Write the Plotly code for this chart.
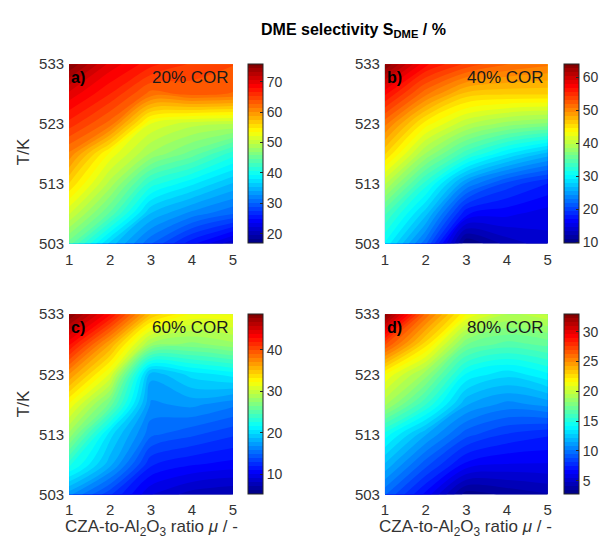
import plotly.graph_objects as go

# ---------------- data ----------------
ratio_mu = [1, 2, 3, 4, 5]                       # CZA-to-Al2O3 ratio
temp_K = [503, 508, 513, 518, 523, 528, 533]     # temperature / K

# DME selectivity / %, rows follow temp_K, columns follow ratio_mu
sel_cor20 = [
    [45.0, 36.0, 30.0, 25.0, 21.0],
    [51.0, 44.0, 35.0, 32.0, 30.0],
    [56.0, 49.0, 41.0, 38.0, 35.0],
    [61.0, 53.0, 48.0, 45.0, 41.0],
    [66.0, 62.0, 52.0, 50.0, 49.5],
    [70.0, 66.5, 62.0, 63.0, 62.5],
    [75.7, 70.0, 67.0, 65.0, 64.0],
]
sel_cor40 = [
    [30.0, 22.0, 9.6, 12.5, 14.0],
    [34.0, 27.0, 17.0, 16.0, 15.0],
    [40.0, 32.0, 24.0, 20.0, 18.0],
    [46.0, 38.5, 33.0, 29.0, 26.0],
    [51.0, 44.0, 40.0, 38.0, 37.0],
    [57.0, 51.0, 46.5, 46.0, 46.0],
    [64.0, 57.0, 54.0, 52.0, 51.0],
]
sel_cor60 = [
    [17.0, 13.0, 9.0, 7.5, 7.0],
    [23.0, 18.0, 12.0, 11.0, 10.5],
    [28.0, 20.0, 15.0, 14.0, 13.0],
    [32.0, 26.0, 16.5, 17.0, 16.0],
    [37.0, 31.0, 18.0, 20.0, 21.0],
    [43.0, 36.0, 28.0, 27.0, 28.0],
    [48.6, 43.0, 35.0, 32.0, 32.0],
]
sel_cor80 = [
    [9.5, 6.5, 3.0, 3.5, 4.0],
    [12.0, 9.0, 6.5, 6.0, 6.0],
    [14.5, 11.5, 9.0, 8.0, 7.5],
    [19.0, 15.5, 11.5, 10.5, 11.0],
    [21.5, 18.5, 14.0, 13.0, 14.0],
    [27.0, 22.5, 17.5, 16.5, 17.0],
    [32.9, 26.0, 21.5, 19.5, 20.0],
]

panel_letters = ["a)", "b)", "c)", "d)"]
panel_titles = ["20% COR", "40% COR", "60% COR", "80% COR"]
cbar_min = [16.8, 9.6, 5.1, 2.7]
cbar_max = [75.7, 64.0, 48.6, 32.9]
cbar_ticks = [[20, 30, 40, 50, 60, 70], [10, 20, 30, 40, 50, 60],
              [10, 20, 30, 40], [5, 10, 15, 20, 25, 30]]
x_ticks = [1, 2, 3, 4, 5]
y_ticks = [503, 513, 523, 533]

# ---------------- style ----------------
W, H = 607, 549
FONT = "Liberation Sans, Arial, sans-serif"
TXT = "#333333"
jet = [[0.0, "rgb(0,0,128)"], [0.125, "rgb(0,0,255)"], [0.375, "rgb(0,255,255)"],
       [0.625, "rgb(255,255,0)"], [0.875, "rgb(255,0,0)"], [1.0, "rgb(128,0,0)"]]

# pixel boxes of the plot areas (left, right, top, bottom)
boxes = [(66, 232, 57, 242), (386, 551, 57, 242), (66, 232, 315, 501), (386, 551, 315, 501)]
cbar_left = [247, 567, 247, 567]

def px2x(p):
    return p / W

def px2y(p):
    return 1 - p / H

fig = go.Figure()
data_sets = [sel_cor20, sel_cor40, sel_cor60, sel_cor80]

for i, z in enumerate(data_sets):
    l, r, t, b = boxes[i]
    nlev = 45
    step = (cbar_max[i] - cbar_min[i]) / nlev
    fig.add_trace(go.Contour(
        x=ratio_mu, y=temp_K, z=z,
        xaxis="x" if i == 0 else f"x{i+1}",
        yaxis="y" if i == 0 else f"y{i+1}",
        colorscale=jet, zmin=cbar_min[i], zmax=cbar_max[i],
        autocontour=False,
        contours=dict(start=cbar_min[i], end=cbar_max[i], size=step, coloring="fill", showlines=False),
        line=dict(width=0),
        showscale=True,
        hoverinfo="skip",
        colorbar=dict(
            x=px2x(cbar_left[i]), xanchor="left", xpad=0, ypad=0,
            y=px2y((t + b) / 2), yanchor="middle",
            len=(b - t) / H, lenmode="fraction",
            thickness=15, thicknessmode="pixels",
            outlinecolor="#262626", outlinewidth=1,
            tickvals=cbar_ticks[i], ticks="inside", ticklen=3, tickcolor="#262626",
            tickfont=dict(family=FONT, size=14, color=TXT),
        ),
    ))

layout = dict(
    width=W, height=H, margin=dict(l=0, r=0, t=0, b=0),
    paper_bgcolor="white", plot_bgcolor="white",
    font=dict(family=FONT, color=TXT),
    showlegend=False,
)
for i in range(4):
    l, r, t, b = boxes[i]
    xa = "xaxis" if i == 0 else f"xaxis{i+1}"
    ya = "yaxis" if i == 0 else f"yaxis{i+1}"
    yname = "y" if i == 0 else f"y{i+1}"
    xname = "x" if i == 0 else f"x{i+1}"
    layout[xa] = dict(domain=[px2x(l), px2x(r)], anchor=yname, range=[1, 5],
                      tickvals=x_ticks, showgrid=False, zeroline=False, showline=False,
                      ticks="", ticklabelstandoff=5,
                      tickfont=dict(family=FONT, size=15, color=TXT))
    layout[ya] = dict(domain=[px2y(b), px2y(t)], anchor=xname, range=[503, 533],
                      tickvals=y_ticks, showgrid=False, zeroline=False, showline=False,
                      ticks="", ticklabelstandoff=4,
                      tickfont=dict(family=FONT, size=15, color=TXT))
fig.update_layout(**layout)

ann = []
# title
ann.append(dict(text="<b>DME selectivity S<sub>DME</sub> / %</b>", x=px2x(354.5), y=px2y(22),
                xref="paper", yref="paper", xanchor="center", yanchor="middle", showarrow=False,
                font=dict(family=FONT, size=16, color="#000000")))
for i in range(4):
    xr = "x domain" if i == 0 else f"x{i+1} domain"
    yr = "y domain" if i == 0 else f"y{i+1} domain"
    ann.append(dict(text="<b>" + panel_letters[i] + "</b>", x=0.0, y=0.925, xref=xr, yref=yr,
                    xanchor="left", yanchor="middle", showarrow=False,
                    font=dict(family=FONT, size=16, color="#000000")))
    ann.append(dict(text=panel_titles[i], x=0.99, y=0.925, xref=xr, yref=yr,
                    xanchor="right", yanchor="middle", showarrow=False,
                    font=dict(family=FONT, size=17, color="#1a1a1a")))
# y labels
for yc in [147, 407]:
    ann.append(dict(text="T/K", x=px2x(20), y=px2y(yc), xref="paper", yref="paper",
                    textangle=-90, xanchor="center", yanchor="middle", showarrow=False,
                    font=dict(family=FONT, size=17, color=TXT)))
# x labels
for xc in [149, 468]:
    ann.append(dict(text="CZA-to-Al<sub>2</sub>O<sub>3</sub> ratio <i>μ</i> / -",
                    x=px2x(xc), y=px2y(536), xref="paper", yref="paper",
                    xanchor="center", yanchor="middle", showarrow=False,
                    font=dict(family=FONT, size=17, color=TXT)))
fig.update_layout(annotations=ann)

fig.write_html("out.html", config={"displayModeBar": False},
               post_script="document.body.style.margin='0px';document.body.style.overflow='hidden';")
